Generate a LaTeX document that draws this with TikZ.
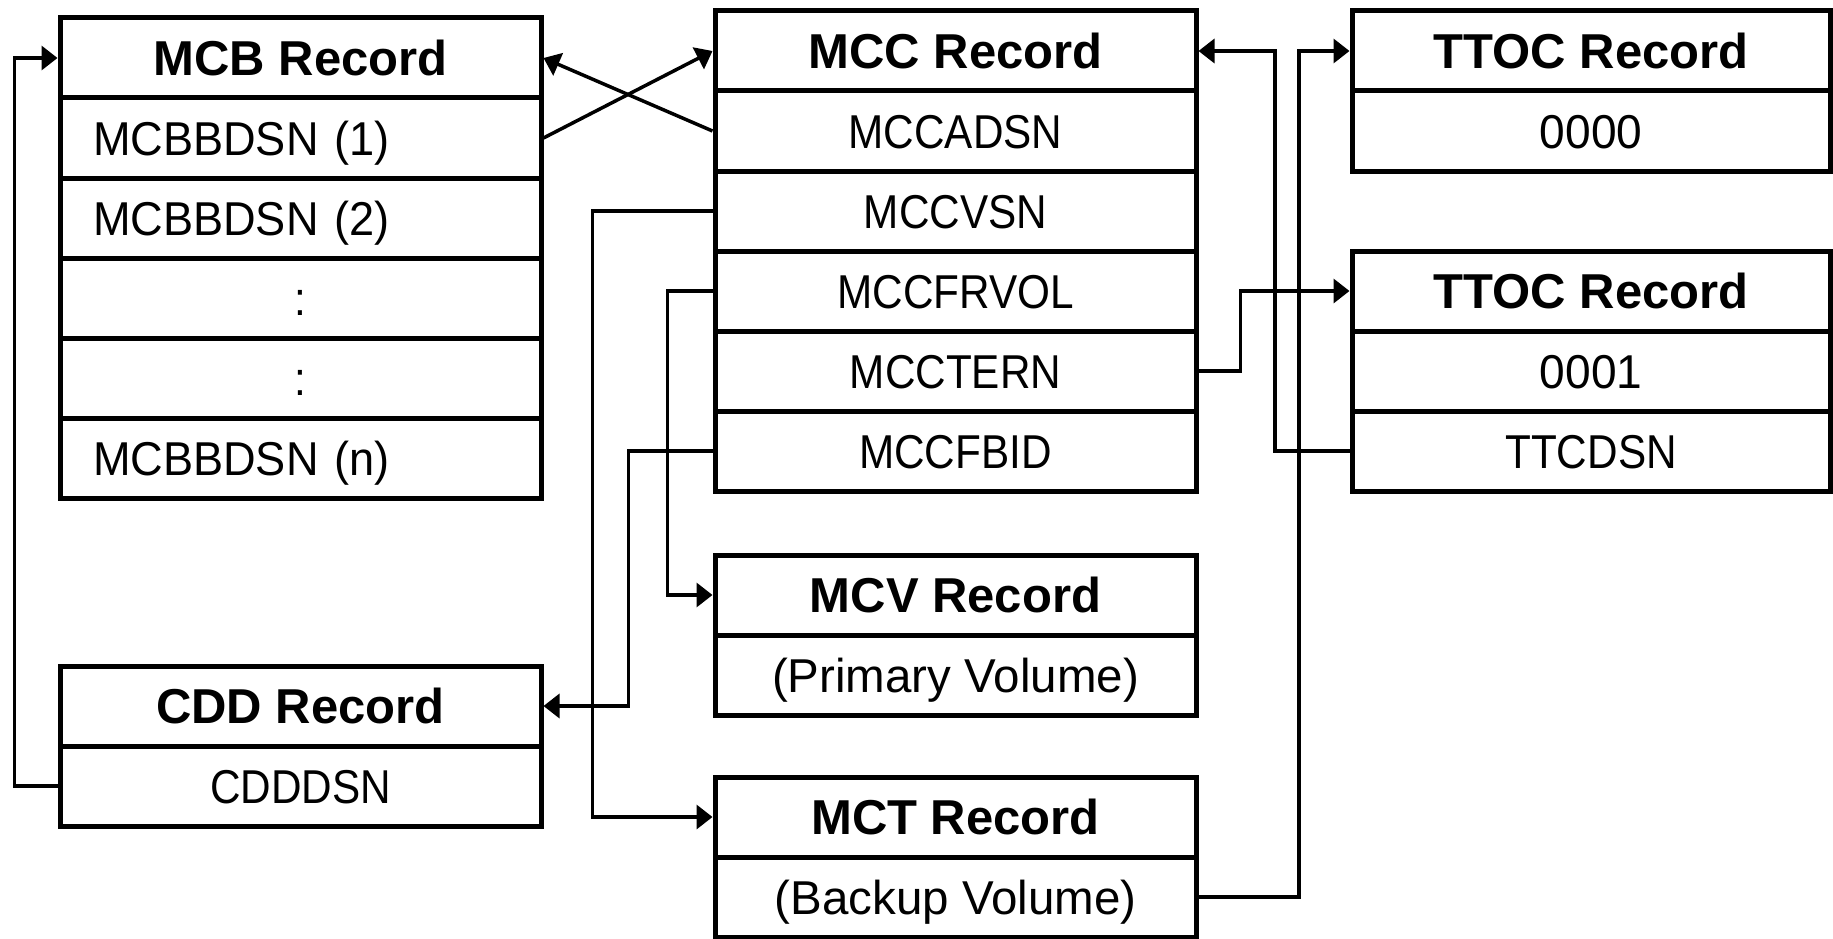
\documentclass[tikz,border=0pt]{standalone}
\usepackage{fontspec}
\setmainfont{Liberation Sans}
\newfontfamily\capfont[FakeStretch=0.89]{Liberation Sans}
\newfontfamily\mixfont[FakeStretch=0.95]{Liberation Sans}
\newfontfamily\digfont[FakeStretch=0.97]{Liberation Sans}
\newfontfamily\lowfont{Liberation Sans}
\usetikzlibrary{arrows.meta}
\begin{document}
\begin{tikzpicture}[x=1pt,y=-1pt,
  cell/.style={draw, line width=5pt, minimum width=481pt, minimum height=80pt, inner sep=0pt,
    font=\capfont\fontsize{47.5pt}{50pt}\selectfont, text height=34pt, text depth=0pt},
  tcell/.style={cell, minimum width=478pt},
  dcell/.style={tcell, font=\digfont\fontsize{47.5pt}{50pt}\selectfont},
  vcell/.style={cell, font=\lowfont\fontsize{47.5pt}{50pt}\selectfont},
  head/.style={cell, font=\bfseries\fontsize{49pt}{52pt}\selectfont, text height=35.2pt},
  thead/.style={head, minimum width=478pt},
  lcell/.style={cell, inner xsep=33pt, text width=415pt, align=left,
    font=\mixfont\fontsize{47.5pt}{50pt}\selectfont},
  conn/.style={line width=3.5pt, -{Triangle[length=16pt,width=24pt]}}]
\useasboundingbox (0,0) rectangle (1833,939);
% MCB
\node[head]  (mcbh) at (300.5,58)  {MCB Record};
\node[lcell] (mcb1) at (300.5,138) {MCBBDSN (1)};
\node[lcell] (mcb2) at (300.5,218) {MCBBDSN (2)};
\node[cell]  (mcb3) at (300.5,298) {:};
\node[cell]  (mcb4) at (300.5,378) {:};
\node[lcell] (mcb5) at (300.5,458) {MCBBDSN (n)};
% MCC
\node[head] (mcch) at (955.5,51)  {MCC Record};
\node[cell] (mcc1) at (955.5,131) {MCCADSN};
\node[cell] (mcc2) at (955.5,211) {MCCVSN};
\node[cell] (mcc3) at (955.5,291) {MCCFRVOL};
\node[cell] (mcc4) at (955.5,371) {MCCTERN};
\node[cell] (mcc5) at (955.5,451) {MCCFBID};
% TTOC
\node[thead] (tt1h) at (1591,51)  {TTOC Record};
\node[dcell] (tt11) at (1591,131) {0000};
\node[thead] (tt2h) at (1591,291) {TTOC Record};
\node[dcell] (tt21) at (1591,371) {0001};
\node[tcell] (tt22) at (1591,451) {TTCDSN};
% MCV
\node[head]  (mcvh) at (955.5,595) {MCV Record};
\node[vcell] (mcv1) at (955.5,675) {(Primary Volume)};
% MCT
\node[head]  (mcth) at (955.5,817) {MCT Record};
\node[vcell] (mct1) at (955.5,897) {(Backup Volume)};
% CDD
\node[head] (cddh) at (300.5,706) {CDD Record};
\node[cell] (cdd1) at (300.5,786) {CDDDSN};
% connectors
\draw[conn] (mcb1.east) -- (mcch.west);
\draw[conn] (mcc1.west) -- (mcbh.east);
\draw[conn] (mcc2.west) -- ++(-120,0) |- (mcth.west);
\draw[conn] (mcc3.west) -- ++(-45,0) |- (mcvh.west);
\draw[conn] (mcc5.west) -- ++(-84,0) |- (cddh.east);
\draw[conn] (cdd1.west) -- ++(-43,0) |- (mcbh.west);
\draw[conn] (mcc4.east) -- ++(42,0) |- (tt2h.west);
\draw[conn] (tt22.west) -- ++(-74.5,0) |- (mcch.east);
\draw[conn] (mct1.east) -- ++(100.5,0) |- (tt1h.west);
\end{tikzpicture}
\end{document}
